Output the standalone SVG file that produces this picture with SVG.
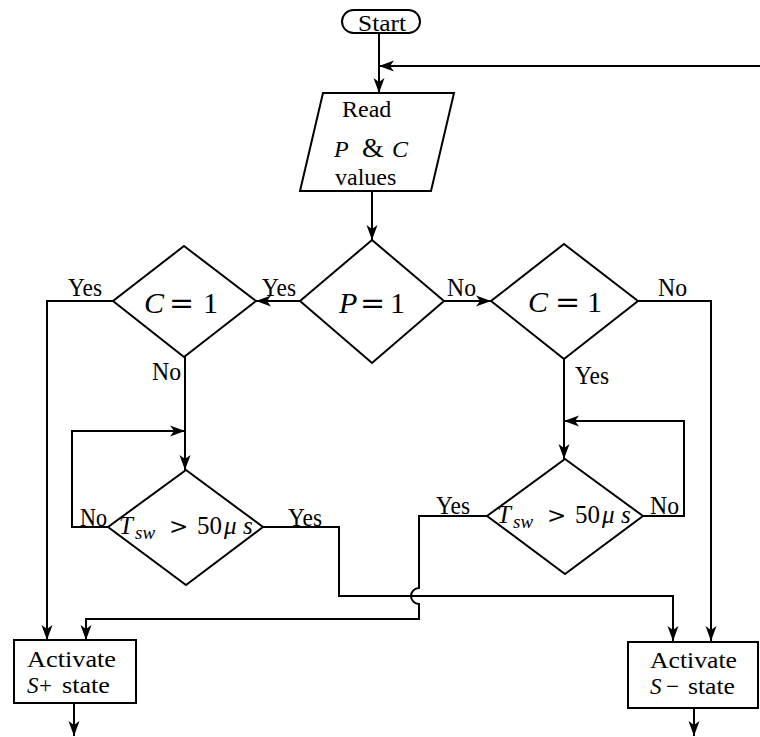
<svg xmlns="http://www.w3.org/2000/svg" width="760" height="737" viewBox="0 0 760 737" font-family="'Liberation Serif', 'Times New Roman', 'DejaVu Serif', serif">
<defs>
<marker id="ah" markerUnits="userSpaceOnUse" markerWidth="16" markerHeight="12" refX="15" refY="6" orient="auto">
<path d="M0,0.5 L15,6 L0,11.5 L4,6 z" fill="#000"/>
</marker>
<style>
.sh{fill:#fff;stroke:#000;stroke-width:2}
.ln{fill:none;stroke:#000;stroke-width:2}
.ar{marker-end:url(#ah)}
text{font-family:'Liberation Serif','Times New Roman','DejaVu Serif',serif;fill:#000}
.t{font-size:24px}
.bx{font-size:23px}
.lb{font-size:26px}
.m{font-size:30px}
.op{font-family:'DejaVu Serif',serif}
.ms{font-size:25px}
.sub{font-size:19px;font-style:italic}
.i{font-style:italic}
</style>
</defs>
<rect width="760" height="737" fill="#fff"/>

<g id="connectors">
<path class="ln ar" d="M379,33 L379,93"/>
<path class="ln ar" d="M760,66 L379,66"/>
<path class="ln ar" d="M372,191 L372,240"/>
<path class="ln ar" d="M300,301 L256,301"/>
<path class="ln ar" d="M444,301 L491,301"/>
<path class="ln ar" d="M113,301 L47,301 L47,640"/>
<path class="ln ar" d="M185,357 L185,470"/>
<path class="ln ar" d="M108,527 L72,527 L72,431 L185,431"/>
<path class="ln ar" d="M263,527 L339,527 L339,596 L673,596 L673,641"/>
<path class="ln ar" d="M638,301 L711,301 L711,641"/>
<path class="ln ar" d="M564,359 L564,459"/>
<path class="ln ar" d="M643,516 L684,516 L684,421 L564,421"/>
<path class="ln ar" d="M487,516 L419,516 L419,588 A8,8 0 0 0 419,604 L419,619 L86,619 L86,640"/>
<path class="ln ar" d="M74,703 L74,736"/>
<path class="ln ar" d="M694,708 L694,736"/>
</g>

<g id="start">
<rect class="sh" x="342" y="10" width="78" height="23" rx="11.5"/>
<text class="t" x="358" y="31" textLength="48" lengthAdjust="spacingAndGlyphs">Start</text>
</g>

<g id="read">
<polygon class="sh" points="323,93 454,93 431,191 300,191"/>
<text class="t" x="342" y="117" font-size="25">Read</text>
<text class="t" y="157" font-size="25"><tspan class="i" x="334">P</tspan><tspan x="362" font-size="28">&amp;</tspan><tspan class="i" x="392">C</tspan></text>
<text class="t" x="335" y="185" font-size="25">values</text>
</g>

<g id="p1">
<polygon class="sh" points="372,240 444,301 372,363 300,301"/>
<text class="m" y="313"><tspan class="i" x="339">P</tspan><tspan class="op" x="360">=</tspan><tspan x="390">1</tspan></text>
</g>

<g id="c1left">
<polygon class="sh" points="184,246 256,301 184,357 113,301"/>
<text class="m" y="313"><tspan class="i" x="144">C</tspan><tspan class="op" x="169">=</tspan><tspan x="203">1</tspan></text>
</g>

<g id="c1right">
<polygon class="sh" points="564,244 638,301 564,359 491,301"/>
<text class="m" y="312"><tspan class="i" x="528">C</tspan><tspan class="op" x="555">=</tspan><tspan x="587">1</tspan></text>
</g>

<g id="tswleft">
<polygon class="sh" points="186,470 263,527 186,585 108,527"/>
<text class="ms" y="534"><tspan class="i" x="119">T</tspan><tspan class="sub" x="135" dy="5">sw</tspan><tspan class="op" x="169" dy="-5" font-size="23">&gt;</tspan><tspan x="197">50</tspan><tspan class="i" x="224">μ</tspan><tspan class="i" x="243">s</tspan></text>
</g>

<g id="tswright">
<polygon class="sh" points="565,459 643,516 565,574 487,516"/>
<text class="ms" y="523"><tspan class="i" x="497">T</tspan><tspan class="sub" x="513" dy="5">sw</tspan><tspan class="op" x="547" dy="-5" font-size="23">&gt;</tspan><tspan x="575">50</tspan><tspan class="i" x="602">μ</tspan><tspan class="i" x="621">s</tspan></text>
</g>

<g id="splus">
<rect class="sh" x="14" y="640" width="122" height="63"/>
<text class="bx" x="27" y="667" textLength="89" lengthAdjust="spacingAndGlyphs">Activate</text>
<text class="bx" y="693"><tspan class="i" x="27">S</tspan><tspan x="39">+</tspan></text>
<text class="bx" x="62" y="693" textLength="48" lengthAdjust="spacingAndGlyphs">state</text>
</g>

<g id="sminus">
<rect class="sh" x="628" y="642" width="130" height="66"/>
<text class="bx" x="650" y="668" textLength="87" lengthAdjust="spacingAndGlyphs">Activate</text>
<text class="bx" y="694"><tspan class="i" x="650">S</tspan><tspan x="666">−</tspan></text>
<text class="bx" x="688" y="694" textLength="47" lengthAdjust="spacingAndGlyphs">state</text>
</g>

<g id="labels">
<text class="lb" x="68" y="296" textLength="34" lengthAdjust="spacingAndGlyphs">Yes</text>
<text class="lb" x="262" y="296" textLength="34" lengthAdjust="spacingAndGlyphs">Yes</text>
<text class="lb" x="447" y="296" textLength="29" lengthAdjust="spacingAndGlyphs">No</text>
<text class="lb" x="658" y="296" textLength="29" lengthAdjust="spacingAndGlyphs">No</text>
<text class="lb" x="152" y="380" textLength="29" lengthAdjust="spacingAndGlyphs">No</text>
<text class="lb" x="575" y="384" textLength="34" lengthAdjust="spacingAndGlyphs">Yes</text>
<text class="lb" x="80" y="526" textLength="27" lengthAdjust="spacingAndGlyphs">No</text>
<text class="lb" x="288" y="526" textLength="34" lengthAdjust="spacingAndGlyphs">Yes</text>
<text class="lb" x="436" y="514" textLength="34" lengthAdjust="spacingAndGlyphs">Yes</text>
<text class="lb" x="650" y="514" textLength="29" lengthAdjust="spacingAndGlyphs">No</text>
</g>
</svg>
